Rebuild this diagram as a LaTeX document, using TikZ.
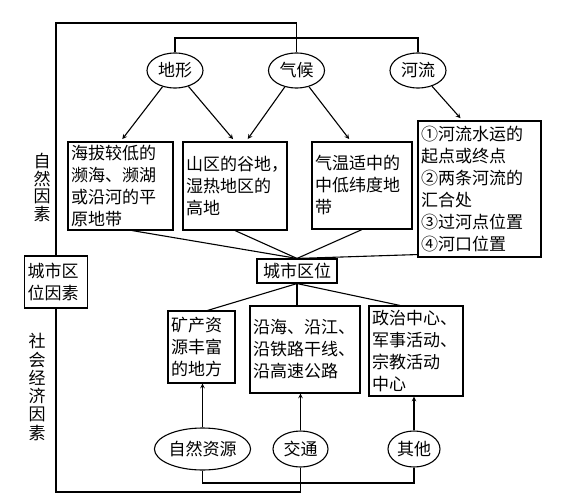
\documentclass[tikz,border=0pt]{standalone}
\usepackage{fontspec}
\setmainfont{Noto Sans CJK SC}
\usetikzlibrary{positioning, shapes.geometric}
\begin{document}
\begin{tikzpicture}[x=1pt, y=-1pt, node distance={121.5pt}, line width=1.1pt, >=stealth,
  font=\fontsize{17}{22}\selectfont,
  main/.style = {draw, ellipse, minimum width=56pt, minimum height=35pt, inner sep=0pt},
  box/.style 2 args = {draw, align=left, inner sep=3pt, text width=#1, minimum height=#2}]
\useasboundingbox (0,0) rectangle (572,500);
\node[main] (1) at (175,70.5) {地形};
\node[main] (2) [right of=1] {气候};
\node[main] (3) [right of=2] {河流};
\node[box={99pt}{88pt}] (4) at (120.5,186) {海拔较低的\\濒海、濒湖\\或沿河的平\\原地带};
\node[box={98pt}{88pt}] (5) at (235,186) {山区的谷地，\\湿热地区的\\高地};
\node[box={94pt}{87pt}] (6) at (362,185.5) {气温适中的\\中低纬度地\\带};
\node[box={117pt}{136pt}] (7) at (479.5,189) {①河流水运的\\起点或终点\\②两条河流的\\汇合处\\③过河点位置\\④河口位置};
\node[draw, minimum width=80pt, minimum height=24pt, inner sep=1pt] (8) at (297,271) {城市区位};
\node[box={61pt}{72pt}] (9) at (201.5,347) {矿产资\\源丰富\\的地方};
\node[box={104pt}{87pt}] (10) at (305,349.5) {沿海、沿江、\\沿铁路干线、\\沿高速公路};
\node[box={88pt}{90pt}] (11) at (416,351) {政治中心、\\军事活动、\\宗教活动\\中心};
\node[main, minimum width=91pt, minimum height=42pt] (12) at (202.5,449) {自然资源};
\node[main, minimum width=55pt, minimum height=36pt] (13) at (300.5,449) {交通};
\node[main, minimum width=52pt, minimum height=36pt] (14) at (414,449) {其他};
\node[box={57pt}{52pt}] (15) at (56,282) {城市区\\位因素};
\node[align=center, font=\fontsize{17}{17.8}\selectfont] (16) at (42,187.5) {自\\然\\因\\素};
\node[align=center, font=\fontsize{17}{18.3}\selectfont] (17) at (37,387) {社\\会\\经\\济\\因\\素};
% natural factors
\draw[->, shorten >=3pt] (1) -- (4.north);
\draw[->, shorten >=3pt] (1) -- (5.north);
\draw[->, shorten >=3pt] (2) -- ([xshift=11pt]5.north);
\draw[->, shorten >=3pt] (2) -- ([xshift=-11pt]6.north);
\draw[->, shorten >=3pt] (3) -- ([xshift=-17pt]7.north);
\draw ([xshift=11.5pt]4.south) -- (8.north);
\draw (5.south) -- (8.north);
\draw (6.south) -- (8.north);
\draw ([yshift=3pt]7.south west) -- (8.north);
% social and economic factors
\draw ([xshift=6pt]9.north) -- (8.south);
\draw (8.south) -- (8.south |- 10.north);
\draw ([xshift=-16pt]11.north) -- (8.south);
\draw[->] (12.north) -- (12.north |- 9.south);
\draw[->] (13.north) -- (13.north |- 10.south);
\draw[->] (14.north) -- (14.north |- 11.south);
% frame lines
\draw (12.south) -- (12.south |- 0,483) -| (14.south);
\draw (13.south) -- (13.south |- 0,492) -| (15.south);
\draw (15.north) -- (15.north |- 0,23) -| (2.north);
\draw (1.north) -- (1.north |- 0,38) -| (3.north);
\end{tikzpicture}
\end{document}
